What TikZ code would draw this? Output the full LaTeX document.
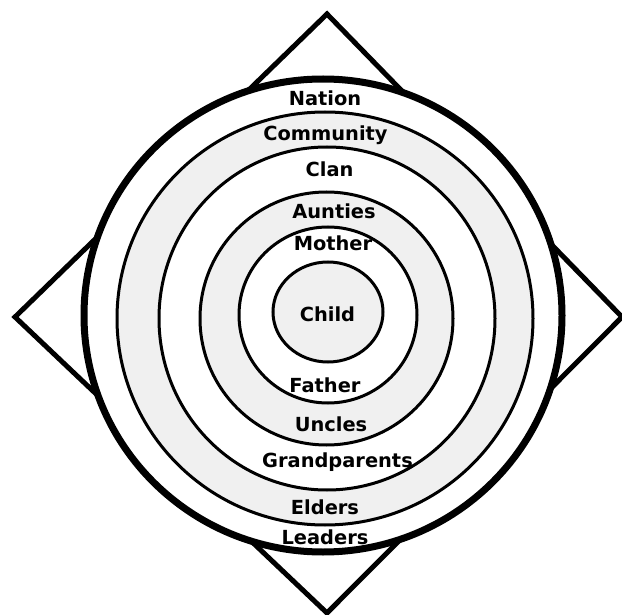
\documentclass[tikz,border=0pt]{standalone}
\usepackage{fontspec}
\setmainfont{DejaVu Sans}
\definecolor{ringgray}{HTML}{F0F0F0}
\begin{document}
\begin{tikzpicture}[x=1pt,y=-1pt,
  ring/.style={draw=black,line width=3pt},
  lbl/.style={anchor=base,inner sep=0pt,font=\fontsize{19.4}{22}\selectfont\bfseries,text=black}]
\useasboundingbox (0,0) rectangle (622,615);
% diamond
\draw[line width=5pt,fill=white] (327,14) -- (622,317) -- (327,613) -- (15,317) -- cycle;
% rings
\draw[line width=7pt,fill=white] (323,315.5) ellipse [x radius=239pt,y radius=236.5pt];
\draw[ring,fill=ringgray] (325,318.5) ellipse [x radius=208pt,y radius=206.5pt];
\draw[ring,fill=white] (327,318.5) ellipse [x radius=168pt,y radius=171.5pt];
\draw[ring,fill=ringgray] (326.5,318.5) ellipse [x radius=126.5pt,y radius=126.5pt];
\draw[ring,fill=white] (328,315) ellipse [x radius=89pt,y radius=88pt];
\draw[ring,fill=ringgray] (328,312) ellipse [x radius=55pt,y radius=50pt];
% labels
\node[lbl] (nation) at (325,106) {Nation};
\node[lbl] (community) at (325.5,141) {Community};
\node[lbl] (clan) at (329.5,177) {Clan};
\node[lbl] (aunties) at (334,219) {Aunties};
\node[lbl] (mother) at (333,251) {Mother};
\node[lbl] (child) at (327.5,321) {Child};
\node[lbl] (father) at (325,392) {Father};
\node[lbl] (uncles) at (331,431) {Uncles};
\node[lbl] (grandparents) at (337.5,467) {Grandparents};
\node[lbl] (elders) at (325,514) {Elders};
\node[lbl] (leaders) at (325,544) {Leaders};
\end{tikzpicture}
\end{document}
